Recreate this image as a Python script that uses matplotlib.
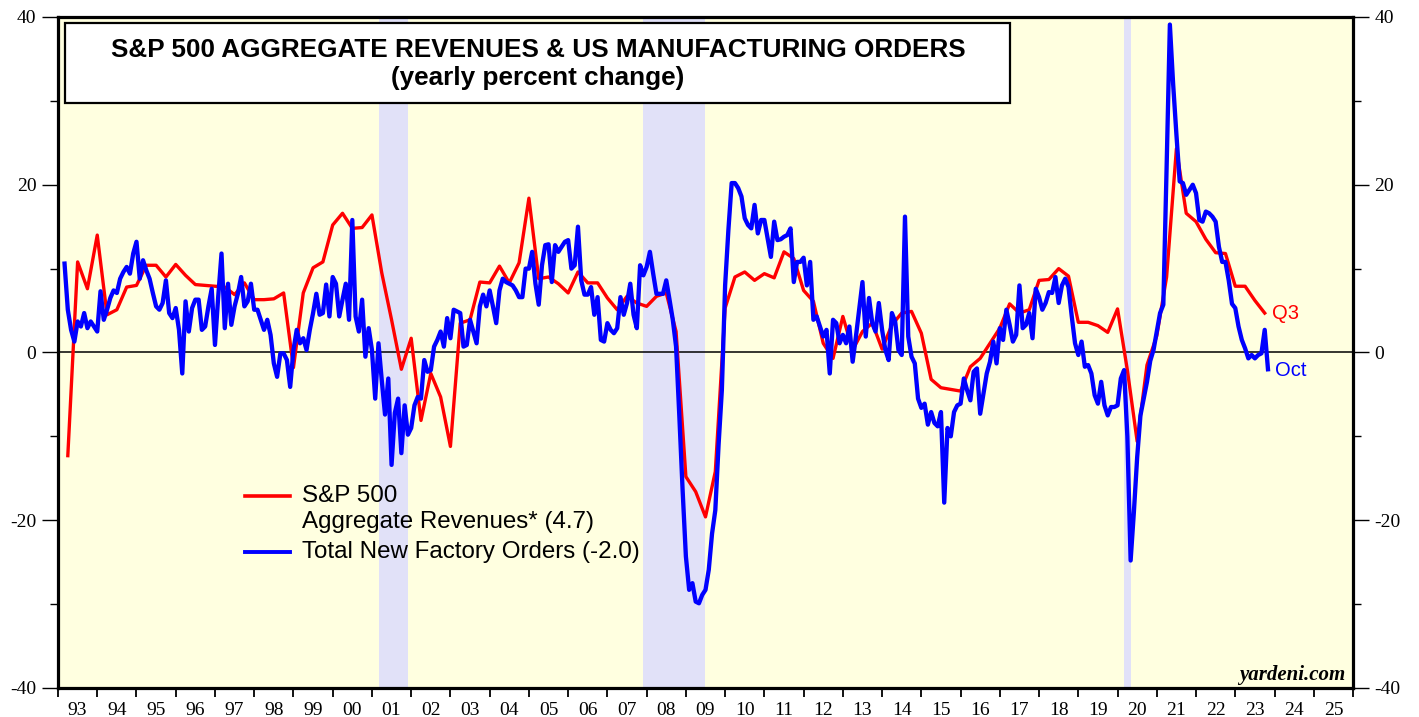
import matplotlib
matplotlib.use("Agg")
import matplotlib.pyplot as plt
from matplotlib.patches import Rectangle
from matplotlib.lines import Line2D
import numpy as np

plt.rcParams["axes.unicode_minus"] = False

# ---------------- data ----------------
# S&P 500 aggregate revenues, y/y % change, quarterly, Q1 1993 .. Q3 2023
revenues = [
    -12.3, 10.8, 7.6, 14.0,   # 1993
    4.5, 5.1, 7.8, 8.0,       # 1994
    10.4, 10.4, 9.0, 10.5,    # 1995
    9.2, 8.1, 8.0, 7.9,       # 1996
    7.8, 6.9, 8.3, 6.3,       # 1997
    6.3, 6.4, 7.1, -1.8,      # 1998
    7.1, 10.1, 10.8, 15.2,    # 1999
    16.6, 14.8, 14.9, 16.4,   # 2000
    9.5, 3.9, -2.0, 1.7,      # 2001
    -8.1, -2.5, -5.3, -11.2,  # 2002
    3.5, 3.9, 8.4, 8.3,       # 2003
    10.3, 8.3, 10.7, 18.4,    # 2004
    8.8, 9.0, 8.2, 7.1,       # 2005
    9.6, 8.3, 8.3, 6.5,       # 2006
    5.1, 6.7, 5.9, 5.5,       # 2007
    6.7, 7.1, 2.5, -14.8,     # 2008
    -16.6, -19.6, -14.2, 5.3, # 2009
    9.0, 9.6, 8.6, 9.4,       # 2010
    8.9, 12.0, 11.2, 7.4,     # 2011
    6.1, 1.1, -0.7, 4.3,      # 2012
    0.3, 2.5, 3.5, 0.4,       # 2013
    3.3, 4.7, 4.9, 2.3,       # 2014
    -3.2, -4.2, -4.4, -4.6,   # 2015
    -1.7, -0.7, 1.1, 2.9,     # 2016
    5.8, 4.7, 5.1, 8.6,       # 2017
    8.7, 10.0, 9.1, 3.6,      # 2018
    3.6, 3.2, 2.4, 5.2,       # 2019
    -2.1, -10.6, -1.5, 2.0,   # 2020
    9.0, 24.3, 16.6, 15.6,    # 2021
    13.5, 11.9, 11.8, 7.9,    # 2022
    7.9, 6.2, 4.7,            # 2023
]

# Total new factory orders, y/y % change, monthly, Feb 1993 .. Oct 2023
orders = [
    10.6, 5.1, 2.7, 1.3, 3.7, 3.1, 4.7, 2.9, 3.7, 3.1, 2.5,                 # 1993 (Feb-Dec)
    7.3, 3.9, 5.1, 6.5, 7.4, 7.1, 8.8, 9.6, 10.2, 9.4, 11.8, 13.2,         # 1994
    8.8, 11.0, 9.8, 8.8, 7.1, 5.5, 5.1, 5.9, 8.6, 4.7, 4.1, 5.3,           # 1995
    2.7, -2.5, 6.1, 2.5, 5.3, 6.3, 6.3, 2.7, 3.1, 5.5, 7.6, 0.9,           # 1996
    6.7, 11.8, 2.9, 8.2, 3.3, 5.5, 7.0, 9.0, 5.5, 6.1, 8.2, 5.1,           # 1997
    5.1, 3.9, 2.7, 3.9, 2.1, -1.3, -2.9, -0.1, -0.1, -0.9, -4.1, 0.3,      # 1998
    2.7, 1.1, 1.7, 0.3, 2.7, 4.7, 7.0, 4.5, 4.7, 8.1, 4.3, 9.0,            # 1999
    8.2, 4.3, 6.3, 8.2, 3.9, 15.8, 4.3, 2.5, 6.3, -0.5, 2.9, 0.3,          # 2000
    -5.5, 1.1, -3.3, -7.4, -3.1, -13.4, -7.2, -5.5, -12.0, -6.3, -9.8, -9.0,  # 2001
    -6.3, -5.3, -5.5, -0.9, -2.3, -2.1, 0.7, 1.5, 2.5, 0.7, 4.1, 1.7,      # 2002
    5.1, 4.9, 4.7, 0.7, 0.9, 3.9, 2.5, 1.1, 5.5, 6.9, 5.5, 7.4,            # 2003
    5.5, 3.5, 7.4, 8.8, 8.4, 8.2, 8.0, 7.4, 6.6, 6.6, 10.0, 10.0,          # 2004
    12.0, 8.2, 5.7, 10.4, 12.8, 12.9, 8.4, 12.8, 12.0, 12.6, 13.2, 13.4,   # 2005
    10.0, 10.4, 15.0, 8.6, 6.9, 6.9, 7.8, 4.5, 6.6, 1.5, 1.3, 3.5,         # 2006
    2.7, 2.3, 2.9, 6.6, 4.5, 5.9, 8.2, 4.5, 2.9, 10.4, 9.2, 10.2,          # 2007
    12.0, 9.4, 7.0, 7.0, 7.0, 8.6, 6.3, 3.9, 0.7, -7.6, -16.4, -24.3,      # 2008
    -28.3, -27.5, -29.7, -29.9, -28.9, -28.3, -25.9, -21.6, -18.8, -11.0, -4.5, 8.0,  # 2009
    14.6, 20.2, 20.2, 19.6, 18.6, 16.0, 15.2, 14.8, 17.6, 14.2, 15.8, 15.8,  # 2010
    13.6, 11.4, 15.6, 13.4, 13.5, 13.8, 14.0, 14.8, 8.4, 10.8, 10.8, 11.3,   # 2011
    8.0, 10.8, 3.9, 4.3, 3.1, 1.9, 2.7, -2.5, 3.9, 3.5, 1.1, 2.1,          # 2012
    1.1, 3.1, -1.1, 1.9, 5.1, 8.4, 1.9, 6.5, 3.5, 2.5, 5.9, 2.7,           # 2013
    0.3, -0.9, 4.7, 3.7, 0.3, -0.3, 16.2, 1.9, -0.5, -1.3, -5.5, -6.6,     # 2014
    -6.1, -8.6, -7.1, -8.4, -8.8, -7.1, -17.9, -9.0, -10.0, -7.1, -6.3, -6.1,  # 2015
    -3.1, -4.5, -5.7, -2.3, -1.9, -7.3, -4.9, -2.5, -1.1, 1.3, -1.3, 2.9,  # 2016
    1.5, 5.1, 3.3, 1.3, 2.1, 8.0, 2.9, 3.3, 4.7, 1.7, 7.6, 6.6,            # 2017
    5.1, 5.9, 7.2, 7.1, 9.0, 5.9, 8.0, 8.8, 7.8, 4.3, 1.1, -0.3,           # 2018
    1.3, -1.7, -1.5, -2.5, -5.1, -6.1, -3.5, -6.3, -7.5, -6.5, -6.5, -6.3, # 2019
    -3.1, -2.1, -10.0, -24.8, -19.0, -12.5, -7.5, -5.5, -3.5, -1.0, 0.3, 2.5,  # 2020
    4.7, 5.7, 22.0, 39.1, 32.0, 26.0, 20.4, 20.2, 18.8, 19.4, 20.0, 19.0,  # 2021
    15.8, 15.6, 16.8, 16.6, 16.2, 15.6, 12.6, 10.8, 10.8, 8.6, 5.8, 5.3,   # 2022
    3.1, 1.5, 0.5, -0.7, -0.3, -0.7, -0.3, -0.1, 2.7, -2.0,                # 2023 (Jan-Oct)
]

recessions = [(2001.17, 2001.92), (2007.92, 2009.50), (2020.17, 2020.35)]
year_labels = ["93", "94", "95", "96", "97", "98", "99", "00", "01", "02", "03",
               "04", "05", "06", "07", "08", "09", "10", "11", "12", "13", "14",
               "15", "16", "17", "18", "19", "20", "21", "22", "23", "24", "25"]

title_line1 = "S&P 500 AGGREGATE REVENUES & US MANUFACTURING ORDERS"
title_line2 = "(yearly percent change)"
label_rev = ["S&P 500", "Aggregate Revenues* (4.7)"]
label_ord = "Total New Factory Orders (-2.0)"

# ---------------- time axes ----------------
rev_t = 1993 + (np.arange(len(revenues)) + 1) / 4.0      # quarter ends
ord_t = 1993 + (np.arange(len(orders)) + 2) / 12.0       # month ends, from Feb 1993

# ---------------- figure ----------------
W, H = 1419, 717
fig = plt.figure(figsize=(W / 100, H / 100), dpi=100)
fig.patch.set_facecolor("white")

def fx(px):
    return px / W

def fy(py):
    return 1 - py / H

ax = fig.add_axes([fx(58), fy(688), fx(1353) - fx(58), fy(17) - fy(688)])
ax.set_facecolor("#FFFFE0")
ax.set_xlim(1993, 2026)
ax.set_ylim(-40, 40)

for a, b in recessions:
    ax.axvspan(a, b, color="#E1E1F8", lw=0, zorder=0.5)

ax.axhline(0, color="black", lw=1.1, zorder=1)

RED = "#FF0000"
BLUE = "#0000FF"
ax.plot(rev_t, revenues, color=RED, lw=2.4, zorder=3, solid_joinstyle="round")
ax.plot(ord_t, orders, color=BLUE, lw=3.1, zorder=4, solid_joinstyle="round")

# end labels
ax.annotate("Q3", xy=(rev_t[-1], revenues[-1]), xytext=(5, 0), textcoords="offset points",
            color=RED, fontsize=14.5, family="Liberation Sans", va="center", ha="left")
ax.annotate("Oct", xy=(ord_t[-1], orders[-1]), xytext=(5, -1), textcoords="offset points",
            color=BLUE, fontsize=14.5, family="Liberation Sans", va="center", ha="left")

# spines
for s in ax.spines.values():
    s.set_linewidth(2.3)
    s.set_color("black")

# y ticks both sides
ax.set_yticks([-40, -20, 0, 20, 40])
ax.set_yticks([-30, -10, 10, 30], minor=True)
ax.tick_params(axis="y", which="major", direction="out", length=11.5, width=1.0,
               left=True, right=True, labelleft=True, labelright=True, pad=4,
               labelsize=14)
ax.tick_params(axis="y", which="minor", direction="out", length=5.5, width=1.0,
               left=True, right=True)
for lab in ax.get_yticklabels():
    lab.set_family("Liberation Serif")

# x ticks: boundaries (major) and centered labels (minor)
years = np.arange(1993, 2027)
ax.set_xticks(years)
ax.set_xticklabels([""] * len(years))
ax.set_xticks(years[:-1] + 0.5, minor=True)
ax.set_xticklabels(year_labels, minor=True)
ax.tick_params(axis="x", which="major", direction="out", length=6.5, width=1.3)
ax.tick_params(axis="x", which="minor", length=0, pad=10, labelsize=14)
for lab in ax.get_xticklabels(minor=True):
    lab.set_family("Liberation Serif")

# title box
fig.patches.append(Rectangle((fx(65), fy(103)), fx(1010) - fx(65), fy(23) - fy(103),
                             transform=fig.transFigure, facecolor="white",
                             edgecolor="black", lw=1.6, zorder=5))
fig.text(fx(538), fy(50), title_line1, ha="center", va="center", fontsize=18.8,
         fontweight="bold", family="Liberation Sans", zorder=6)
fig.text(fx(538), fy(78), title_line2, ha="center", va="center", fontsize=18.8,
         fontweight="bold", family="Liberation Sans", zorder=6)

# legend (manual)
fig.lines.append(Line2D([fx(245), fx(290)], [fy(496), fy(496)], color=RED, lw=2.6,
                        transform=fig.transFigure, zorder=6))
fig.text(fx(302), fy(496), label_rev[0], ha="left", va="center", fontsize=17.4,
         family="Liberation Sans", zorder=6)
fig.text(fx(302), fy(522), label_rev[1], ha="left", va="center", fontsize=17.4,
         family="Liberation Sans", zorder=6)
fig.lines.append(Line2D([fx(245), fx(290)], [fy(552), fy(552)], color=BLUE, lw=2.8,
                        transform=fig.transFigure, zorder=6))
fig.text(fx(302), fy(552), label_ord, ha="left", va="center", fontsize=17.4,
         family="Liberation Sans", zorder=6)

# source
ax.text((1345 - 58) / 1295, (688 - 680) / 671, "yardeni.com", transform=ax.transAxes,
        ha="right", va="baseline", fontsize=15, fontweight="bold", style="italic",
        family="Liberation Serif", zorder=6)

fig.savefig("out.png", dpi=100, facecolor="white")
